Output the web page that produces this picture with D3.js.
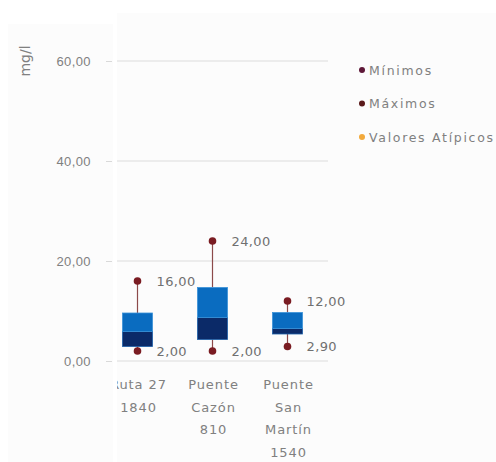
<!DOCTYPE html>
<html>
<head>
<meta charset="utf-8">
<script src="https://cdn.jsdelivr.net/npm/d3@7/dist/d3.min.js"></script>
<style>
  html, body { margin: 0; padding: 0; background: #ffffff; }
  svg { display: block; font-family: "DejaVu Sans", "Open Sans", sans-serif; }
</style>
</head>
<body>
<svg id="chart" width="496" height="462"></svg>
<script>
// Sampling stations (label lines) and box-plot statistics, mg/l
const categories = [
  ["Ruta 27", "1840"],
  ["Puente", "Cazón", "810"],
  ["Puente", "San", "Martín", "1540"]
];
const minimos  = [2.00, 2.00, 2.90];
const q1       = [2.9, 4.3, 5.4];
const medianas = [5.9, 8.7, 6.5];
const q3       = [9.6, 14.7, 9.7];
const maximos  = [16.00, 24.00, 12.00];
const yTicks   = [0, 20, 40, 60];
const legendItems = ["Mínimos", "Máximos", "Valores Atípicos"];
const legendColors = ["#5e1838", "#5a1a1a", "#f2a93b"];

const svg = d3.select("#chart");
const fmt = v => d3.format(".2f")(v).replace(".", ",");

// faint panel backgrounds
svg.append("rect").attr("x", 8).attr("y", 24).attr("width", 105).attr("height", 438).attr("fill", "#fcfcfc");
svg.append("rect").attr("x", 117).attr("y", 13).attr("width", 379).attr("height", 449).attr("fill", "#fcfcfc");

const y = d3.scaleLinear().domain([0, 60]).range([361, 61]);
const x = d3.scaleBand().domain(d3.range(categories.length)).range([100, 325]).paddingInner(0).paddingOuter(0);
const boxW = 30;
const cx = i => x(i) + x.bandwidth() / 2;

// y axis on the left panel
const yAxis = d3.axisLeft(y).tickValues(yTicks).tickFormat(fmt).tickSize(6).tickPadding(15);
const gy = svg.append("g").attr("transform", "translate(112,0)").call(yAxis);
gy.select(".domain").remove();
gy.selectAll(".tick line").attr("stroke", "#d9d9d9");
gy.selectAll(".tick text").attr("fill", "#808080").attr("font-size", 13).attr("letter-spacing", 0.4);

svg.append("text")
  .attr("transform", "translate(30,61) rotate(-90)")
  .attr("text-anchor", "middle")
  .attr("fill", "#808080").attr("font-size", 14)
  .text("mg/l");

// plot panel, clipped on its left edge
svg.append("clipPath").attr("id", "plotClip")
  .append("rect").attr("x", 117).attr("y", 0).attr("width", 379).attr("height", 462);
const plot = svg.append("g").attr("clip-path", "url(#plotClip)");

plot.selectAll("line.grid").data(yTicks).join("line")
  .attr("class", "grid")
  .attr("x1", 117).attr("x2", 328)
  .attr("y1", d => y(d)).attr("y2", d => y(d))
  .attr("stroke", "#dcdcdc").attr("stroke-width", 1.2);

const idx = d3.range(categories.length);

// whiskers
plot.selectAll("line.wu").data(idx).join("line")
  .attr("x1", cx).attr("x2", cx)
  .attr("y1", i => y(q3[i])).attr("y2", i => y(maximos[i]))
  .attr("stroke", "#8c4a4a").attr("stroke-width", 1.2);
plot.selectAll("line.wl").data(idx).join("line")
  .attr("x1", cx).attr("x2", cx)
  .attr("y1", i => y(q1[i])).attr("y2", i => y(minimos[i]))
  .attr("stroke", "#8c4a4a").attr("stroke-width", 1.2);

// lower box segment (Q1 to median)
plot.selectAll("rect.low").data(idx).join("rect")
  .attr("x", i => cx(i) - boxW / 2).attr("width", boxW)
  .attr("y", i => y(medianas[i])).attr("height", i => y(q1[i]) - y(medianas[i]))
  .attr("fill", "#0b2a68").attr("stroke", "#1d5fa8").attr("stroke-width", 0.8);
// upper box segment (median to Q3)
plot.selectAll("rect.up").data(idx).join("rect")
  .attr("x", i => cx(i) - boxW / 2).attr("width", boxW)
  .attr("y", i => y(q3[i])).attr("height", i => y(medianas[i]) - y(q3[i]))
  .attr("fill", "#0a6cc0").attr("stroke", "#3a92d8").attr("stroke-width", 0.8);

// min / max markers
plot.selectAll("circle.max").data(idx).join("circle")
  .attr("cx", cx).attr("cy", i => y(maximos[i])).attr("r", 3.8).attr("fill", "#7a1c22");
plot.selectAll("circle.min").data(idx).join("circle")
  .attr("cx", cx).attr("cy", i => y(minimos[i])).attr("r", 3.8).attr("fill", "#7a1c22");

// value labels
const lbl = (sel, arr) => sel.data(idx).join("text")
  .attr("x", i => cx(i) + 19).attr("y", i => y(arr[i]))
  .attr("dy", "0.36em")
  .attr("fill", "#707070").attr("font-size", 13).attr("letter-spacing", 0.4)
  .text(i => fmt(arr[i]));
lbl(plot.selectAll("text.max"), maximos);
lbl(plot.selectAll("text.min"), minimos);

// category labels
const cat = plot.selectAll("text.cat").data(idx).join("text")
  .attr("text-anchor", "middle")
  .attr("fill", "#808080").attr("font-size", 13).attr("letter-spacing", 0.9);
cat.selectAll("tspan").data(i => categories[i].map(t => ({ t, i }))).join("tspan")
  .attr("x", d => cx(d.i) + 1)
  .attr("y", (d, k) => 389 + k * 22.5)
  .text(d => d.t);

// legend
const lg = svg.append("g");
legendItems.forEach((name, k) => {
  const ly = 70 + k * 33.5;
  lg.append("circle").attr("cx", 362).attr("cy", ly).attr("r", 3).attr("fill", legendColors[k]);
  lg.append("text").attr("x", 369).attr("y", ly).attr("dy", "0.36em")
    .attr("fill", "#808080").attr("font-size", 12.5).attr("letter-spacing", 1.7)
    .text(name);
});
</script>
</body>
</html>
